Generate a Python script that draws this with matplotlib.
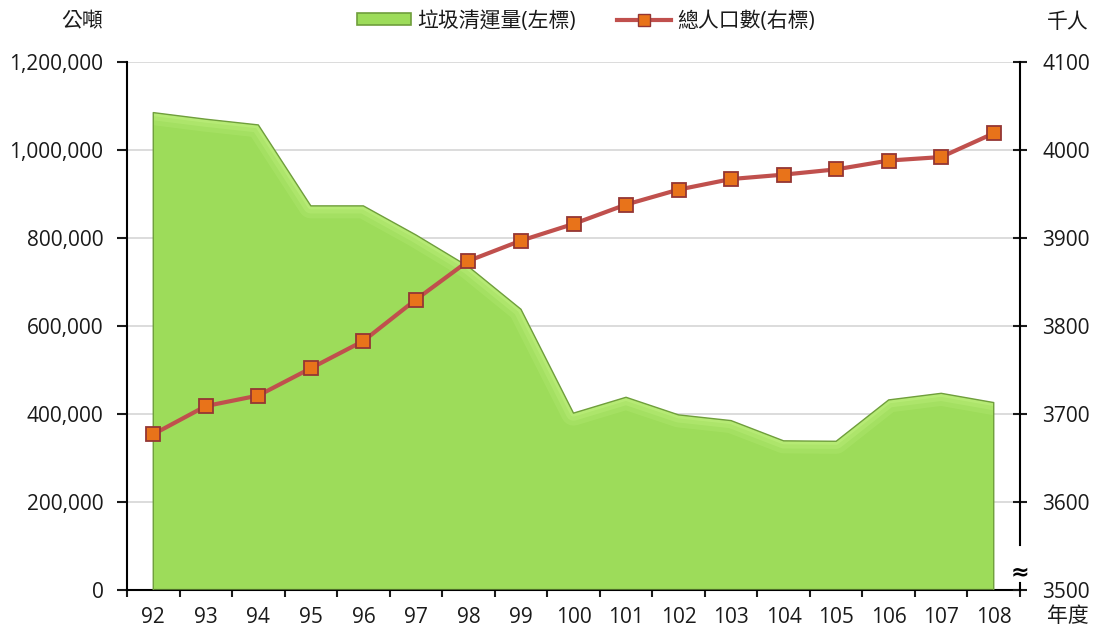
import numpy as np
import matplotlib.pyplot as plt
from matplotlib.patches import Patch
from matplotlib.lines import Line2D

plt.rcParams['font.family'] = ['Open Sans', 'Noto Sans CJK TC', 'DejaVu Sans']

# 資料
years = ['92', '93', '94', '95', '96', '97', '98', '99', '100',
         '101', '102', '103', '104', '105', '106', '107', '108']
garbage = [1085000, 1070000, 1057000, 873000, 873000, 807000, 735000, 638000, 402000,
           438000, 398000, 385000, 339000, 338000, 432000, 447000, 426000]
population = [3677, 3709, 3721, 3752, 3783, 3830, 3874, 3897, 3916,
              3938, 3955, 3967, 3972, 3978, 3988, 3992, 4019]

x = np.arange(len(years))
txt = '#1a1a1a'
fs = 15

fig = plt.figure(figsize=(10.97, 6.34), dpi=100)
ax = fig.add_axes([127 / 1097, 1 - 590 / 634, (1020 - 127) / 1097, (590 - 62) / 634])

# 面積 (垃圾清運量)
area = ax.fill_between(x, garbage, 0, facecolor='#9ddc5a', edgecolor='none', zorder=2)
# 上緣亮色 (模擬立體)
for lw, a in [(18, 0.18), (11, 0.25), (5, 0.35)]:
    hl, = ax.plot(x, garbage, color='#c8f688', linewidth=lw, alpha=a, zorder=3,
                  solid_joinstyle='round')
    hl.set_clip_path(area.get_paths()[0], transform=ax.transData)
ax.fill_between(x, garbage, 0, facecolor='none', edgecolor='#6f9e3c', linewidth=1.0, zorder=4)

ax.set_ylim(0, 1200000)
ax.set_yticks(np.arange(0, 1200001, 200000))
ax.set_yticklabels([f'{v:,}' for v in range(0, 1200001, 200000)])
ax.yaxis.grid(True, color='#d9d9d9', linewidth=1.3, zorder=0)
ax.set_axisbelow(True)

ax.set_xlim(-0.5, len(years) - 0.5)
ax.set_xticks(np.arange(-0.5, len(years), 1))
ax.set_xticklabels([])
ax.set_xticks(x, minor=True)
ax.set_xticklabels(years, minor=True)
ax.tick_params(axis='x', which='major', length=5, width=1.5, direction='out')
ax.tick_params(axis='x', which='minor', length=0, pad=12)
ax.tick_params(axis='y', length=7, width=1.5, direction='out', pad=10)
ax.tick_params(which='both', labelsize=fs, colors=txt)
for s in ['top', 'right']:
    ax.spines[s].set_visible(False)
for s in ['left', 'bottom']:
    ax.spines[s].set_linewidth(1.5)

# 折線 (總人口數)
ax2 = ax.twinx()
ax2.plot(x, population, color='#c0504d', linewidth=3, marker='s', markersize=10,
         markerfacecolor='#e8731a', markeredgecolor='#943634', markeredgewidth=1.3, zorder=5)
ax2.set_ylim(3500, 4100)
ax2.set_yticks(np.arange(3500, 4101, 100))
ax2.tick_params(axis='y', length=10, width=1.5, direction='inout', labelsize=fs,
                colors=txt, pad=11)
for s in ['top', 'left', 'bottom']:
    ax2.spines[s].set_visible(False)
ax2.spines['right'].set_linewidth(1.5)
ax2.spines['right'].set_bounds(3551, 4100)
ax2.plot([1, 1], [0, 7 / 528], transform=ax2.transAxes, color='black', linewidth=1.5, clip_on=False)
ax2.text(1, 18 / 528, '≈', transform=ax2.transAxes, ha='center', va='center',
         fontsize=16, fontweight='bold', family='DejaVu Sans')

# 標題文字
fig.text(82 / 1097, 1 - 22 / 634, '公噸', ha='center', va='center', fontsize=fs, color=txt)
fig.text(1068 / 1097, 1 - 22 / 634, '千人', ha='center', va='center', fontsize=fs, color=txt)
fig.text(1068 / 1097, 1 - 616 / 634, '年度', ha='center', va='center', fontsize=fs, color=txt)

handles = [Patch(facecolor='#9ddc5a', edgecolor='#6f9e3c', linewidth=1.2),
           Line2D([0], [0], color='#c0504d', linewidth=3, marker='s', markersize=9,
                  markerfacecolor='#e8731a', markeredgecolor='#943634')]
fig.legend(handles, ['垃圾清運量(左標)', '總人口數(右標)'], loc='center',
           bbox_to_anchor=(586 / 1097, 1 - 21 / 634), ncol=2, frameon=False,
           fontsize=fs, handlelength=2.6, handleheight=0.5, columnspacing=2,
           handletextpad=0.3, labelcolor=txt)

fig.savefig('out.png', dpi=100)
